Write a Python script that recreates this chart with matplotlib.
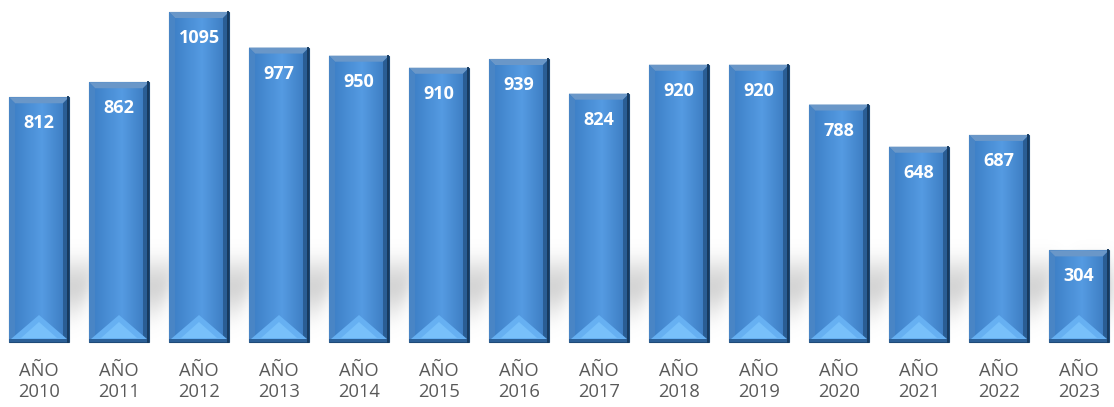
import numpy as np
import matplotlib.pyplot as plt
from matplotlib.patches import Polygon
from matplotlib.colors import to_rgb

# data
years = ['2010', '2011', '2012', '2013', '2014', '2015', '2016',
         '2017', '2018', '2019', '2020', '2021', '2022', '2023']
values = [812, 862, 1095, 977, 950, 910, 939, 824, 920, 920, 788, 648, 687, 304]
labels = ['AÑO\n' + y for y in years]

W, H = 1114, 407
fig = plt.figure(figsize=(W / 100, H / 100), dpi=100)
ax = fig.add_axes([0, 0, 1, 1])
x_lo, x_hi = -0.4875, 13.4375
y_lo, y_hi = -215.7, 1134.8
ax.set_xlim(x_lo, x_hi)
ax.set_ylim(y_lo, y_hi)
ax.axis('off')

px = (x_hi - x_lo) / W   # data units per pixel
py = (y_hi - y_lo) / H

xs = np.arange(len(values))
bars = ax.bar(xs, values, width=0.75, color='#2b64a0', edgecolor='#1e4a78',
              linewidth=0.8, zorder=3)

# soft grey shadow cast behind the bars, slanting up to the right
gx = np.linspace(x_lo, x_hi, W)
gy = np.linspace(y_lo, y_hi, H)
GX, GY = np.meshgrid(gx, gy)
D = GY / py  # pixels above the base line
mask = np.zeros((H, W))
for b in bars:
    x0, w = b.get_x(), b.get_width()
    shift = (0.35 * D - 2) * px
    inside = (GX > x0 + shift) & (GX < x0 + w + shift + 4 * px) & (D > 5) & (D < 85)
    weight = np.clip(1 - np.abs(D - 55) / 40, 0, 1)
    mask = np.maximum(mask, inside * weight)


def blur(a, sigma, axis):
    r = int(3 * sigma)
    k = np.exp(-0.5 * (np.arange(-r, r + 1) / sigma) ** 2)
    k /= k.sum()
    return np.apply_along_axis(lambda m: np.convolve(m, k, mode='same'), axis, a)


mask = blur(blur(mask, 6, 1), 9, 0)
shadow = np.zeros((H, W, 4))
shadow[..., :3] = 0.6
shadow[..., 3] = np.clip(mask * 0.5, 0, 1)
ax.imshow(shadow, extent=(x_lo, x_hi, y_lo, y_hi), origin='lower',
          aspect='auto', zorder=1, interpolation='bilinear')

# horizontal gradient for the bar body
stops = [(0.0, '#3a7cc3'), (0.55, '#559be2'), (1.0, '#3978bd')]
t = np.linspace(0, 1, 64)
grad = np.zeros((1, 64, 3))
for c in range(3):
    grad[0, :, c] = np.interp(t, [s[0] for s in stops],
                              [to_rgb(s[1])[c] for s in stops])

e = 6  # bevel size in pixels
for b, v in zip(bars, values):
    x0, w, h = b.get_x(), b.get_width(), b.get_height()
    x1 = x0 + w
    xc = x0 + w / 2
    ex, ey = e * px, e * py
    im = ax.imshow(grad, extent=(x0, x1, 0, h), aspect='auto', zorder=4,
                   interpolation='bilinear')
    im.set_clip_path(b)
    # top bevel
    ax.add_patch(Polygon([(x0, h), (x1, h), (x1 - ex, h - ey), (x0 + ex, h - ey)],
                         closed=True, fc='#6a97c8', ec='none', zorder=5))
    # left bevel
    ax.add_patch(Polygon([(x0, h), (x0 + ex, h - ey), (x0 + ex, ey), (x0, 0)],
                         closed=True, fc='#4985c5', ec='none', zorder=5))
    # right bevel
    ax.add_patch(Polygon([(x1, h), (x1, 0), (x1 - ex, ey), (x1 - ex, h - ey)],
                         closed=True, fc='#2a5d94', ec='none', zorder=5))
    # bottom light triangle
    ax.add_patch(Polygon([(x0 + 2 * px, 3 * py), (x1 - 2 * px, 3 * py), (xc, 27 * py)],
                         closed=True, fc='#66b0f2', ec='none', zorder=5))
    ax.add_patch(Polygon([(x0 + 12 * px, 4 * py), (x1 - 12 * px, 4 * py), (xc, 20 * py)],
                         closed=True, fc='#78c0fa', ec='none', zorder=5))
    # bottom dark edge
    ax.add_patch(Polygon([(x0, 0), (x1, 0), (x1, 3 * py), (x0, 3 * py)],
                         closed=True, fc='#2b5f96', ec='none', zorder=5))
    ax.plot([x1 - 1 * px, x1 - 1 * px], [0, h], color='#173a5e', lw=1.4, zorder=6)
    ax.text(xc, h - 26 * py, str(v), ha='center', va='center', color='white',
            fontsize=13, fontweight='bold', family='Open Sans', zorder=7)

for x, lab in zip(xs, labels):
    ax.text(x, -20 * py, lab, ha='center', va='top', color='#595959',
            fontsize=13.2, family='Open Sans', linespacing=1.25)

fig.savefig('out.png', dpi=100)
